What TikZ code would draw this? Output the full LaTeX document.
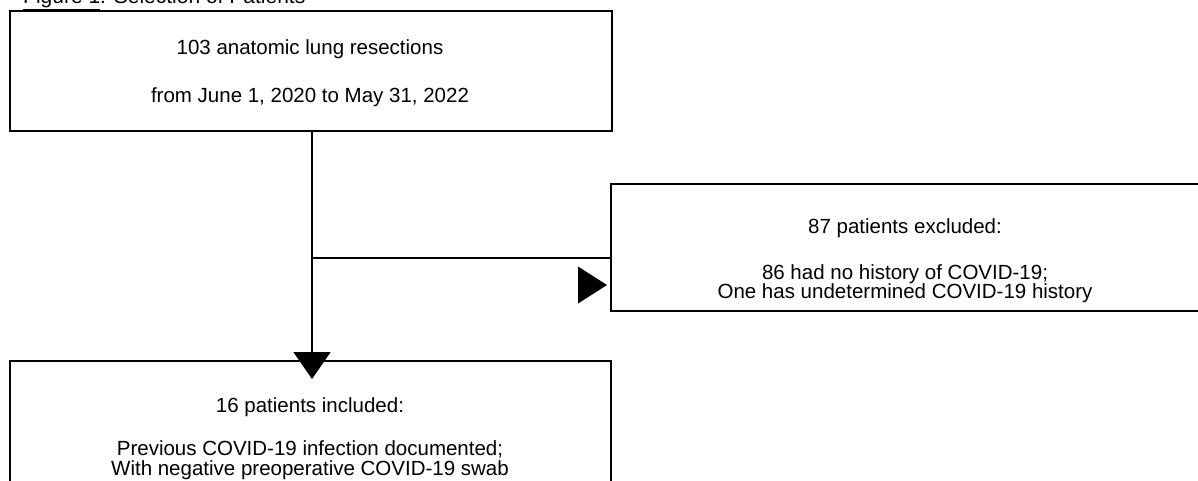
\documentclass[tikz,border=0pt]{standalone}
\usepackage{fontspec}
\setmainfont{Liberation Sans}
\usetikzlibrary{arrows.meta}
\begin{document}
\begin{tikzpicture}[x=1pt,y=-1pt,
  box/.style={draw=black,line width=2pt,inner sep=0pt,anchor=north west},
  txt/.style={inner sep=0pt,anchor=base,font=\fontsize{20.5}{19.5}\selectfont},
  conn/.style={line width=2pt,draw=black}]
\useasboundingbox (0,0) rectangle (1198,480);
% title (mostly cut off at the top edge)
\node[inner sep=0pt,anchor=base west,font=\fontsize{21}{24}\selectfont] (title) at (23,3) {\underline{Figure 1}: Selection of Patients};
% boxes
\node[box,minimum width=602pt,minimum height=120pt] (top) at (9,10) {};
\node[box,minimum width=592pt,minimum height=127pt] (rbox) at (610,183) {};
\node[box,minimum width=601pt,minimum height=125pt] (bot) at (9,360) {};
% texts
\node[txt] (t1) at (310,54) {103 anatomic lung resections};
\node[txt] (t2) at (310,102) {from June 1, 2020 to May 31, 2022};
\node[txt] (r1) at (905,233) {87 patients excluded:};
\node[txt] (r2) at (905,279) {86 had no history of COVID-19;};
\node[txt] (r3) at (905,298.5) {One has undetermined COVID-19 history};
\node[txt] (b1) at (310,412) {16 patients included:};
\node[txt] (b2) at (310,455.5) {Previous COVID-19 infection documented;};
\node[txt] (b3) at (310,475) {With negative preoperative COVID-19 swab};
% connectors
\coordinate (dtip) at (312,379);
\coordinate (j) at (312,258);
\draw[conn,-{Triangle[width=37pt,length=27pt]}] (top.south -| dtip) -- (dtip);
\draw[conn] (j) -- (j -| rbox.west);
\coordinate (rtip) at (607,285);
\fill[black] (rtip) -- ++(-29,-18.5) -- ++(0,37) -- cycle;
\end{tikzpicture}
\end{document}
